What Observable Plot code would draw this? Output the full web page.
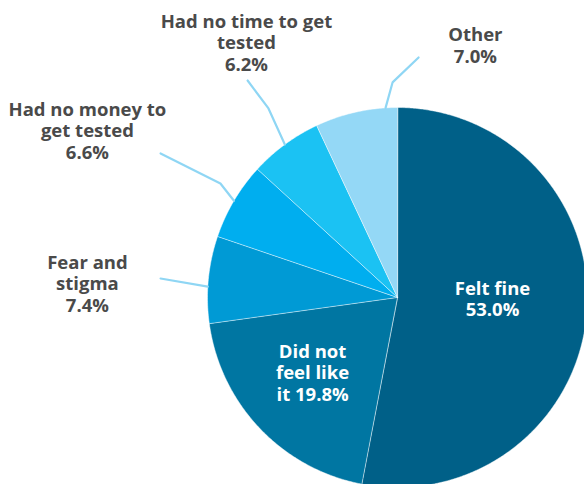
<!DOCTYPE html>
<html>
<head>
<meta charset="utf-8">
<script src="https://cdn.jsdelivr.net/npm/d3@7"></script>
<script src="https://cdn.jsdelivr.net/npm/@observablehq/plot@0.6"></script>
<style>
  html, body { margin: 0; padding: 0; background: #ffffff; }
  #chart { width: 584px; height: 484px; overflow: hidden; }
</style>
</head>
<body>
<div id="chart"></div>
<script>
// ---- data ----
const categories = ["Felt fine", "Did not feel like it", "Fear and stigma", "Had no money to get tested", "Had no time to get tested", "Other"];
const values = [53.0, 19.8, 7.4, 6.6, 6.2, 7.0];
const labelLines = [
  ["Felt fine", "53.0%"],
  ["Did not", "feel like", "it 19.8%"],
  ["Fear and", "stigma", "7.4%"],
  ["Had no money to", "get tested", "6.6%"],
  ["Had no time to get", "tested", "6.2%"],
  ["Other", "7.0%"]
];
const colors = ["#006088", "#0076a2", "#009ad5", "#00aeef", "#1bc2f3", "#94d8f6"];

// ---- layout (in pie-radius units, relative to the pie centre; y grows downward) ----
const W = 584, H = 484, R = 190, CX = 397, CY = 297;
const labelLayout = [
  {inside: true,  lx: 0.50,  ly: 0.005},
  {inside: true,  lx: -0.447, ly: 0.395},
  {inside: false, lx: -1.632, ly: -0.074, anchorShift: -2.1, leader: [[-1.247, -0.10]]},
  {inside: false, lx: -1.632, ly: -0.879, anchorShift: 0, leader: [[-0.932, -0.60], [-1.247, -0.758]]},
  {inside: false, lx: -0.795, ly: -1.342, anchorShift: 0, leader: [[-0.679, -0.995], [-0.789, -1.142]]},
  {inside: false, lx: 0.41,  ly: -1.33, anchorShift: 9, leader: [[-0.026, -1.132], [0.111, -1.263]]}
];

// ---- geometry from values ----
const arcs = d3.pie().sort(null).value(d => d)(values);
const slicePoints = [];
arcs.forEach((a, i) => {
  slicePoints.push({cat: categories[i], x: 0, y: 0});
  const n = Math.max(4, Math.ceil((a.endAngle - a.startAngle) / (Math.PI / 360)));
  for (let k = 0; k <= n; k++) {
    const t = a.startAngle + (a.endAngle - a.startAngle) * k / n;
    slicePoints.push({cat: categories[i], x: Math.sin(t), y: -Math.cos(t)});
  }
});

const leaderPoints = [];
labelLayout.forEach((l, i) => {
  if (l.inside) return;
  const mid = (arcs[i].startAngle + arcs[i].endAngle) / 2 + l.anchorShift * Math.PI / 180;
  leaderPoints.push({cat: categories[i], x: Math.sin(mid), y: -Math.cos(mid)});
  l.leader.forEach(p => leaderPoints.push({cat: categories[i], x: p[0], y: p[1]}));
});

const labels = labelLayout.map((l, i) => ({
  cat: categories[i],
  text: labelLines[i].join("\n"),
  x: l.lx, y: l.ly, inside: l.inside
}));

const chart = Plot.plot({
  width: W, height: H,
  margin: 0,
  x: {domain: [-CX / R, (W - CX) / R], range: [0, W], axis: null},
  y: {domain: [-CY / R, (H - CY) / R], range: [0, H], axis: null},
  color: {domain: categories, range: colors},
  style: {background: "#ffffff", fontFamily: "'Open Sans', sans-serif"},
  marks: [
    Plot.line(slicePoints, {x: "x", y: "y", z: "cat", fill: "cat", stroke: "#ffffff", strokeWidth: 0.6, strokeOpacity: 0.8, curve: "linear-closed"}),
    Plot.line(leaderPoints, {x: "x", y: "y", z: "cat", stroke: "#8fd6f4", strokeWidth: 2.2, strokeLinejoin: "miter"}),
    Plot.text(labels.filter(d => !d.inside), {x: "x", y: "y", text: "text", fill: "#4a4a4a", fontSize: 18.5, fontWeight: 700, lineHeight: 1.17, textAnchor: "middle", lineAnchor: "middle"}),
    Plot.text(labels.filter(d => d.inside), {x: "x", y: "y", text: "text", fill: "#ffffff", fontSize: 18.5, fontWeight: 700, lineHeight: 1.17, textAnchor: "middle", lineAnchor: "middle"})
  ]
});
document.getElementById("chart").appendChild(chart);
</script>
</body>
</html>
